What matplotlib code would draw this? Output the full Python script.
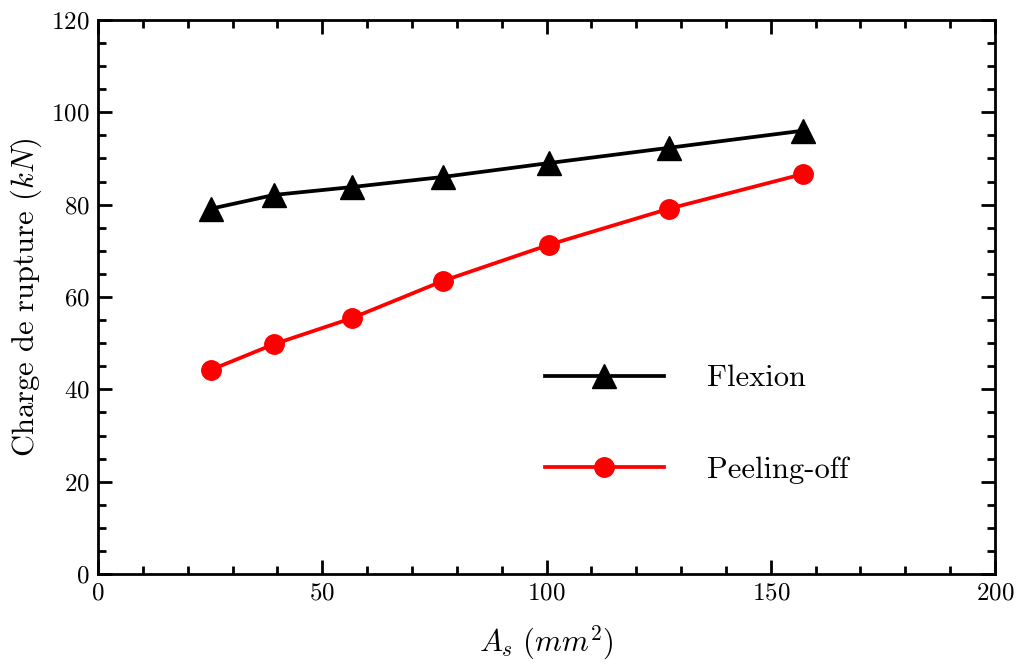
import numpy as np
import matplotlib
matplotlib.use("Agg")
import matplotlib.pyplot as plt
from matplotlib.ticker import MultipleLocator

plt.rcParams['font.family'] = 'serif'
plt.rcParams['font.serif'] = ['cmr10', 'DejaVu Serif']
plt.rcParams['mathtext.fontset'] = 'cm'
plt.rcParams['axes.formatter.use_mathtext'] = True

# data
area = [25.13, 39.27, 56.55, 76.97, 100.53, 127.23, 157.08]
flexion = [79.1, 82.1, 83.8, 86.0, 89.0, 92.3, 96.0]
peeling = [44.2, 49.8, 55.4, 63.5, 71.3, 79.1, 86.6]

fig = plt.figure(figsize=(10.17, 6.64), dpi=100)
ax = fig.add_axes([0.0964, 0.1355, 0.8820, 0.8345])

ax.plot(area, flexion, color='black', lw=2.7, marker='^', ms=17, label='Flexion')
ax.plot(area, peeling, color='red', lw=2.7, marker='o', ms=14, label='Peeling-off')

ax.set_xlim(0, 200)
ax.set_ylim(0, 120)
ax.xaxis.set_major_locator(MultipleLocator(50))
ax.xaxis.set_minor_locator(MultipleLocator(10))
ax.yaxis.set_major_locator(MultipleLocator(20))
ax.yaxis.set_minor_locator(MultipleLocator(5))
ax.tick_params(which='both', direction='in', top=True, right=True, width=2)
ax.tick_params(which='major', length=10, labelsize=18, pad=6)
ax.tick_params(which='minor', length=6)
for sp in ax.spines.values():
    sp.set_linewidth(2)

ax.set_xlabel(r'$A_s\ (mm^2)$', fontsize=22, labelpad=14)
ax.set_ylabel(r'Charge de rupture $(kN)$', fontsize=22, labelpad=5)

ax.legend(loc='center left', bbox_to_anchor=(0.498, 0.27), frameon=False,
          fontsize=22, borderpad=0, borderaxespad=0, handlelength=3.9,
          handletextpad=1.4, labelspacing=2.1)

fig.savefig('out.png', dpi=100)
